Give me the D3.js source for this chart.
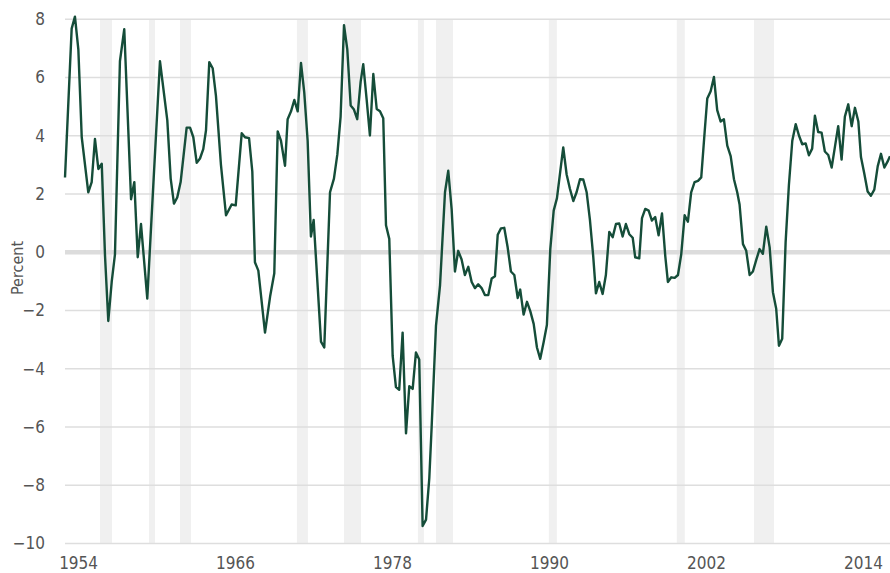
<!DOCTYPE html>
<html>
  <head>
    <script src="https://d3js.org/d3.v7.min.js" charset="utf-8"></script>
    <style type="text/css">
      body {
        margin: 0;
        padding: 0;
        background: #fff;
      }
      .axis text {
        font-family: 'Liberation Sans Narrow', 'DejaVu Sans Condensed', sans-serif;
        font-size: 17px;
        fill: #555;
      }
      .axis path,
      .axis line {
        display: none;
      }
      .label {
        font-family: 'Liberation Sans Narrow', 'DejaVu Sans Condensed', sans-serif;
        font-size: 16px;
        fill: #555;
      }
    </style>
  </head>
  <body>
  <script type="text/javascript">

    // quarterly series (decimal year)
    var years = [1953.00,1953.51,1953.76,1954.02,1954.28,1954.78,1955.04,1955.29,1955.55,1955.81,
      1956.06,1956.31,1956.57,1956.82,1957.20,1957.53,1958.05,1958.30,1958.56,1958.81,
      1959.29,1959.75,1960.26,1960.82,1961.08,1961.33,1961.58,1961.84,1962.30,1962.56,
      1962.81,1963.07,1963.32,1963.57,1963.78,1964.03,1964.29,1964.54,1964.92,1965.31,
      1965.74,1966.05,1966.51,1966.76,1967.07,1967.32,1967.52,1967.78,1968.29,1968.69,
      1969.00,1969.26,1969.51,1969.82,1970.02,1970.28,1970.53,1970.79,1971.04,1971.29,
      1971.55,1971.80,1972.01,1972.57,1972.82,1973.26,1973.56,1973.82,1974.07,1974.33,
      1974.58,1974.84,1975.09,1975.34,1975.60,1975.80,1976.06,1976.31,1976.57,1976.83,
      1977.08,1977.33,1977.54,1977.79,1978.05,1978.30,1978.55,1978.81,1979.07,1979.32,
      1979.58,1979.83,1980.08,1980.34,1980.60,1980.85,1981.03,1981.36,1981.67,1982.05,
      1982.30,1982.56,1982.81,1983.06,1983.32,1983.57,1983.83,1984.09,1984.34,1984.59,
      1984.85,1985.10,1985.36,1985.62,1985.87,1986.08,1986.33,1986.58,1986.84,1987.09,
      1987.35,1987.61,1987.80,1988.06,1988.32,1988.57,1988.83,1989.08,1989.33,1989.59,
      1989.84,1990.10,1990.36,1990.61,1990.86,1991.09,1991.35,1991.60,1991.86,1992.11,
      1992.37,1992.62,1992.88,1993.13,1993.38,1993.59,1993.84,1994.10,1994.35,1994.61,
      1994.87,1995.12,1995.37,1995.63,1995.88,1996.14,1996.40,1996.59,1996.90,1997.11,
      1997.36,1997.62,1997.87,1998.12,1998.38,1998.64,1998.89,1999.09,1999.35,1999.61,
      1999.86,2000.11,2000.37,2000.62,2000.87,2001.13,2001.39,2001.64,2001.90,2002.10,
      2002.36,2002.61,2002.86,2003.12,2003.37,2003.63,2003.89,2004.14,2004.39,2004.57,
      2004.83,2005.08,2005.34,2005.59,2005.84,2006.10,2006.35,2006.61,2006.87,2007.12,
      2007.37,2007.58,2007.83,2008.09,2008.34,2008.60,2008.86,2009.11,2009.36,2009.62,
      2009.87,2010.12,2010.33,2010.58,2010.84,2011.09,2011.35,2011.61,2011.86,2012.11,
      2012.37,2012.62,2012.88,2013.14,2013.39,2013.65,2013.85,2014.10,2014.36,2014.61,
      2014.87,2015.13,2015.38,2015.64,2015.89,2016.07];

    var values = [2.57,7.68,8.09,6.97,3.95,2.06,2.41,3.89,2.86,3.04,
      -0.13,-2.36,-1.02,-0.07,6.56,7.66,1.82,2.41,-0.17,0.97,
      -1.59,2.30,6.56,4.54,2.53,1.67,1.88,2.41,4.28,4.28,
      3.95,3.07,3.22,3.54,4.19,6.53,6.32,5.37,3.01,1.27,
      1.64,1.61,4.09,3.95,3.92,2.77,-0.34,-0.63,-2.76,-1.49,
      -0.72,4.15,3.83,2.97,4.57,4.84,5.23,4.84,6.50,5.49,
      3.83,0.54,1.11,-3.07,-3.27,2.06,2.53,3.36,4.66,7.80,
      6.97,5.04,4.90,4.57,5.85,6.46,5.25,4.01,6.12,4.92,
      4.84,4.60,0.93,0.46,-3.56,-4.63,-4.72,-2.76,-6.22,-4.60,
      -4.69,-3.44,-3.68,-9.40,-9.18,-7.76,-5.99,-2.53,-1.14,2.06,
      2.80,1.47,-0.66,0.05,-0.25,-0.78,-0.50,-1.02,-1.23,-1.10,
      -1.23,-1.47,-1.47,-0.90,-0.82,0.60,0.82,0.84,0.17,-0.66,
      -0.78,-1.57,-1.28,-2.14,-1.70,-2.02,-2.46,-3.27,-3.66,-3.09,
      -2.50,0.11,1.43,1.86,2.77,3.60,2.67,2.18,1.76,2.06,
      2.51,2.50,2.06,1.11,-0.13,-1.41,-1.02,-1.43,-0.78,0.70,
      0.52,0.97,0.99,0.54,0.97,0.62,0.50,-0.17,-0.21,1.17,
      1.49,1.43,1.09,1.21,0.58,1.33,-0.13,-1.02,-0.86,-0.88,
      -0.78,-0.07,1.27,1.05,2.06,2.41,2.45,2.57,4.13,5.28,
      5.53,6.02,4.88,4.49,4.57,3.66,3.30,2.51,2.06,1.64,
      0.28,0.05,-0.78,-0.66,-0.27,0.11,-0.05,0.88,0.17,-1.37,
      -1.94,-3.21,-2.97,0.34,2.30,3.83,4.40,4.01,3.71,3.74,
      3.33,3.56,4.69,4.13,4.11,3.46,3.34,2.91,3.62,4.33,
      3.18,4.66,5.08,4.33,4.96,4.49,3.27,2.71,2.09,1.94,
      2.15,2.95,3.38,2.91,3.12,3.30];

    // shaded periods
    var bandStart = [1955.68,1959.42,1961.79,1970.73,1974.33,1979.98,1981.36,1989.99,1999.77,2005.67];
    var bandEnd   = [1956.59,1959.88,1962.63,1971.57,1975.63,1980.44,1982.66,1990.60,2000.38,2007.20];

    var yTicks = [-10,-8,-6,-4,-2,0,2,4,6,8];
    var xTicks = [1954,1966,1978,1990,2002,2014];

    var canvas_width = 890;
    var canvas_height = 573;
    var plotLeft = 65, plotRight = 890, plotTop = 19.3, plotBottom = 543.5;

    var data = years.map(function (y, i) { return {year: y, value: values[i]}; });
    var bands = bandStart.map(function (s, i) { return {start: s, end: bandEnd[i]}; });

    var xScale = d3.scaleLinear()
        .domain([1953, 2016.07])
        .range([plotLeft, plotRight]);

    var yScale = d3.scaleLinear()
        .domain([-10, 8])
        .range([plotBottom, plotTop]);

    var svg = d3.select("body")
        .append("svg")
        .attr("width", canvas_width)
        .attr("height", canvas_height)
        .style("display", "block");

    // shaded bands
    svg.append("g")
        .selectAll("rect")
        .data(bands)
        .enter()
        .append("rect")
        .attr("x", function (d) { return xScale(d.start); })
        .attr("width", function (d) { return xScale(d.end) - xScale(d.start); })
        .attr("y", plotTop)
        .attr("height", plotBottom - plotTop)
        .style("fill", "#f0f0f0");

    // grid lines
    svg.append("g")
        .selectAll("line")
        .data(yTicks)
        .enter()
        .append("line")
        .attr("x1", plotLeft)
        .attr("x2", plotRight)
        .attr("y1", function (d) { return yScale(d); })
        .attr("y2", function (d) { return yScale(d); })
        .style("stroke", function (d) { return d === 0 ? "#dcdcdc" : "#dedede"; })
        .style("stroke-width", function (d) { return d === 0 ? 4.5 : 1.6; });

    // Y axis
    svg.append("g")
        .attr("class", "y axis")
        .attr("transform", "translate(" + (plotLeft - 20) + ",0)")
        .call(d3.axisLeft(yScale).tickValues(yTicks).tickSize(0).tickPadding(0).tickFormat(d3.format("d")));

    // X axis
    svg.append("g")
        .attr("class", "x axis")
        .attr("transform", "translate(0," + plotBottom + ")")
        .call(d3.axisBottom(xScale).tickValues(xTicks).tickSize(0).tickPadding(13).tickFormat(d3.format("d")));

    // y label
    svg.append("text")
        .attr("class", "label")
        .attr("transform", "translate(23,268) rotate(-90)")
        .style("text-anchor", "middle")
        .text("Percent");

    // the series
    var line = d3.line()
        .x(function (d) { return xScale(d.year); })
        .y(function (d) { return yScale(d.value); });

    svg.append("path")
        .datum(data)
        .attr("d", line)
        .style("fill", "none")
        .style("stroke", "#154d39")
        .style("stroke-width", 2.4)
        .style("stroke-linejoin", "round");

  </script>
  </body>
</html>
